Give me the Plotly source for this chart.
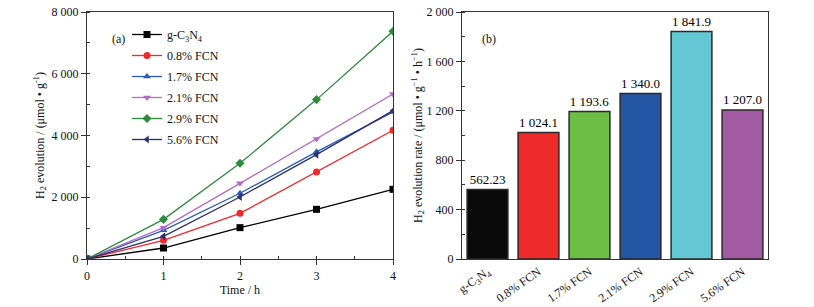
import plotly.graph_objects as go

# ---- data: panel (a) ----
time_h = [0, 1, 2, 3, 4]
series_names = ["g-C<sub>3</sub>N<sub>4</sub>", "0.8% FCN", "1.7% FCN", "2.1% FCN", "2.9% FCN", "5.6% FCN"]
h2_gcn = [0, 356, 1015, 1609, 2257]
h2_08 = [0, 605, 1479, 2818, 4168]
h2_17 = [0, 930, 2130, 3470, 4760]
h2_21 = [0, 1015, 2451, 3888, 5345]
h2_29 = [0, 1285, 3100, 5162, 7376]
h2_56 = [0, 734, 2009, 3380, 4805]
series_values = [h2_gcn, h2_08, h2_17, h2_21, h2_29, h2_56]
line_colors = ["#000000", "#f02a2a", "#2a5cb8", "#b46cc4", "#2e8b3e", "#2c2f70"]
symbols = ["square", "circle", "triangle-up", "triangle-down", "diamond", "triangle-left"]

left_yticks = [0, 2000, 4000, 6000, 8000]
left_yticklabels = ["0", "2 000", "4 000", "6 000", "8 000"]
left_xticks = [0, 1, 2, 3, 4]

# ---- data: panel (b) ----
categories = ["g-C<sub>3</sub>N<sub>4</sub>", "0.8% FCN", "1.7% FCN", "2.1% FCN", "2.9% FCN", "5.6% FCN"]
rates = [562.23, 1024.1, 1193.6, 1340.0, 1841.9, 1207.0]
rate_labels = ["562.23", "1 024.1", "1 193.6", "1 340.0", "1 841.9", "1 207.0"]
bar_colors = ["#0a0a0a", "#ee2a2a", "#6dbe45", "#2356a5", "#63c8d3", "#a25aa3"]
right_yticks = [0, 400, 800, 1200, 1600, 2000]
right_yticklabels = ["0", "400", "800", "1 200", "1 600", "2 000"]

FONT = "Liberation Serif"
W, H = 814, 307


def px(x):
    return x / W


def py(y):
    return 1 - y / H


fig = go.Figure()

for i, (name, vals, col, sym) in enumerate(zip(series_names, series_values, line_colors, symbols)):
    fig.add_trace(go.Scatter(
        x=time_h, y=vals, name=name, mode="lines+markers",
        line=dict(color=col, width=1.3),
        marker=dict(symbol=sym, size=7, color=col),
        legendgroup=f"g{i}",
        xaxis="x", yaxis="y",
    ))

fig.add_trace(go.Bar(
    x=categories, y=rates, text=rate_labels, textposition="outside",
    textfont=dict(family=FONT, size=13, color="#000"),
    constraintext="none",
    marker=dict(color=bar_colors, line=dict(color="#2a2a2a", width=1.5)),
    width=0.8, cliponaxis=False, showlegend=False,
    xaxis="x2", yaxis="y2",
))

axis_common = dict(
    showline=True, linecolor="#333333", linewidth=1.2, mirror=True,
    showgrid=False, zeroline=False, automargin=False,
    tickfont=dict(family=FONT, size=12, color="#111"),
    ticks="outside", ticklen=5, tickwidth=1, tickcolor="#333333",
)

fig.update_layout(
    width=W, height=H,
    margin=dict(l=0, r=0, t=0, b=0, autoexpand=False),
    paper_bgcolor="white", plot_bgcolor="white",
    font=dict(family=FONT, size=12, color="#111"),
    xaxis=dict(
        domain=[px(87), px(393)], range=[0, 4], tickvals=left_xticks,
        title=dict(text="Time / h", font=dict(family=FONT, size=12), standoff=4),
        minor=dict(ticks="inside", dtick=0.5, ticklen=3, tickcolor="#333333"),
        anchor="y", **axis_common,
    ),
    yaxis=dict(
        domain=[py(259), py(12)], range=[0, 8000],
        tickvals=left_yticks, ticktext=left_yticklabels,
        title=dict(text="H<sub>2</sub> evolution / (μmol • g<sup>-1</sup>)",
                   font=dict(family=FONT, size=12), standoff=4),
        minor=dict(ticks="inside", dtick=1000, ticklen=3, tickcolor="#333333"),
        anchor="x", **axis_common,
    ),
    xaxis2=dict(
        domain=[px(462), px(768)], range=[-0.5, 5.5],
        tickangle=-35, anchor="y2", **{**axis_common, "ticks": ""},
    ),
    yaxis2=dict(
        domain=[py(259), py(12)], range=[0, 2000],
        tickvals=right_yticks, ticktext=right_yticklabels,
        title=dict(text="H<sub>2</sub> evolution rate / (μmol • g<sup>−1</sup> • h<sup>−1</sup>)",
                   font=dict(family=FONT, size=12), standoff=1),
        minor=dict(ticks="inside", dtick=200, ticklen=3, tickcolor="#333333"),
        anchor="x2", **axis_common,
    ),
    legend=dict(
        x=px(127), y=py(20), xanchor="left", yanchor="top",
        bgcolor="rgba(0,0,0,0)", font=dict(family=FONT, size=12, color="#111"),
        itemwidth=30, tracegroupgap=2,
    ),
    bargap=0.2,
    annotations=[
        dict(text="(a)", x=px(110), y=py(30), xref="paper", yref="paper",
             showarrow=False, font=dict(family=FONT, size=12)),
        dict(text="(b)", x=px(489), y=py(30), xref="paper", yref="paper",
             showarrow=False, font=dict(family=FONT, size=12)),
    ],
)

fig.write_html(
    "out.html",
    config={"displayModeBar": False},
    post_script="document.body.style.margin='0';document.body.style.overflow='hidden';",
)
